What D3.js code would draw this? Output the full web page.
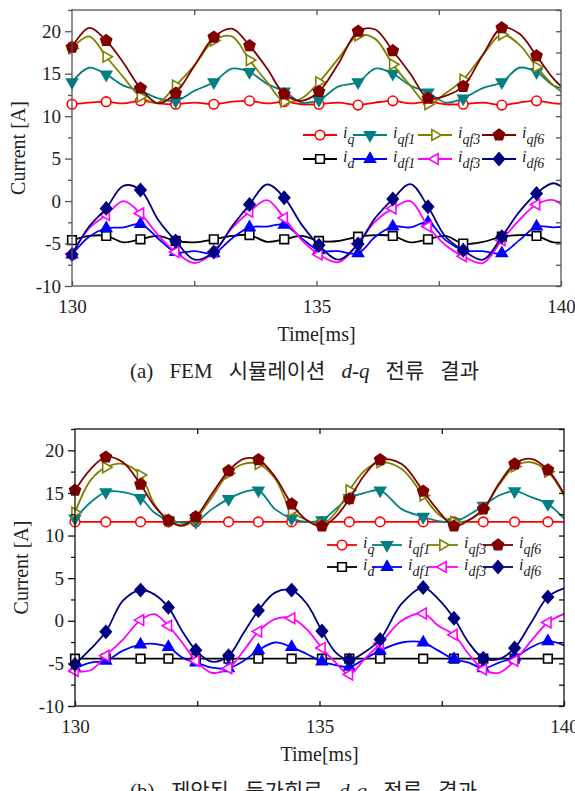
<!DOCTYPE html>
<html>
<head>
<meta charset="utf-8">
<script src="https://cdn.jsdelivr.net/npm/d3@7"></script>
<style>
  body { margin: 0; background: #fff; }
  svg { display: block; }
</style>
</head>
<body>
<svg id="fig" width="575" height="791"></svg>
<script>
// ---- data ----
// (a) FEM simulation, time samples [ms] (markers on every 2nd sample)
var tTop = [130, 130.35, 130.7, 131.05, 131.4, 131.76, 132.12, 132.51, 132.9, 133.27, 133.63, 133.99, 134.34, 134.7,
  135.05, 135.45, 135.85, 136.2, 136.56, 136.92, 137.28, 137.64, 138.0, 138.4, 138.79, 139.15, 139.5, 139.85, 140.2];
var iqA   = [11.4, 11.6, 11.7, 11.5, 11.8, 11.5, 11.4, 11.6, 11.4, 11.7, 11.8, 11.5, 11.7, 11.4, 11.4, 11.6, 11.3, 11.6, 11.8, 11.5, 11.7, 11.4, 11.4, 11.6, 11.3, 11.6, 11.8, 11.5, 11.4];
var iqf1A = [14.0, 15.7, 14.9, 13.6, 13.0, 12.1, 11.8, 13.0, 14.0, 15.6, 15.2, 13.8, 12.9, 11.6, 11.9, 13.5, 14.0, 15.6, 15.0, 13.6, 12.8, 11.6, 12.1, 13.3, 14.0, 15.7, 15.2, 13.6, 13.1];
var iqf3A = [18.0, 19.4, 17.0, 14.6, 12.3, 11.6, 13.6, 16.0, 18.9, 19.4, 16.6, 14.0, 11.7, 12.1, 14.0, 16.8, 19.5, 19.1, 16.1, 13.6, 11.4, 12.7, 14.3, 17.2, 19.6, 18.4, 15.8, 13.6, 12.1];
var iqf6A = [18.1, 20.4, 18.9, 16.3, 13.3, 11.5, 12.7, 16.0, 19.3, 20.3, 18.3, 15.6, 12.6, 11.8, 12.9, 16.2, 20.0, 20.2, 17.7, 15.0, 12.1, 12.4, 13.5, 17.2, 20.4, 19.7, 17.1, 14.4, 12.5];
var idA   = [-4.6, -4.1, -4.1, -4.86, -4.5, -4.1, -4.7, -4.86, -4.5, -4.1, -4.0, -4.8, -4.5, -4.1, -4.7, -4.7, -4.2, -4.0, -4.1, -4.86, -4.5, -4.1, -5.0, -4.8, -4.2, -4.0, -4.1, -4.86, -4.8];
var idf1A = [-6.3, -4.2, -3.2, -3.1, -2.7, -4.4, -6.0, -5.9, -6.15, -4.4, -3.1, -3.0, -2.8, -4.4, -5.8, -5.9, -6.15, -4.2, -3.0, -3.1, -2.5, -4.6, -5.8, -5.9, -6.15, -4.6, -3.0, -3.1, -2.9];
var idf3A = [-6.2, -3.2, -1.64, 0.0, -1.45, -4.0, -6.0, -7.3, -6.0, -3.2, -1.25, 0.1, -2.0, -4.6, -6.3, -7.2, -5.0, -2.4, -0.86, 0.0, -3.0, -5.2, -6.5, -7.3, -4.6, -2.2, -0.4, 0.1, -1.5];
var idf6A = [-6.3, -3.0, -0.86, 1.8, 1.3, -2.2, -4.7, -6.9, -6.0, -3.0, -0.4, 1.97, 0.4, -2.8, -5.2, -6.9, -5.05, -2.0, 0.24, 2.0, -0.66, -4.2, -5.8, -6.9, -4.2, -1.25, 0.9, 2.1, 0.7];

// (b) proposed equivalent circuit
var tBot = [130.0, 130.32, 130.63, 130.98, 131.34, 131.62, 131.91, 132.19, 132.47, 132.8, 133.14, 133.45, 133.75, 134.09, 134.43, 134.74,
  135.05, 135.33, 135.61, 135.92, 136.24, 136.68, 137.12, 137.43, 137.75, 138.05, 138.35, 138.67, 138.99, 139.33, 139.67, 140.0];
var iqB   = [11.6, 11.6, 11.6, 11.6, 11.6, 11.6, 11.6, 11.6, 11.6, 11.6, 11.6, 11.6, 11.6, 11.6, 11.6, 11.6, 11.6, 11.6, 11.6, 11.6, 11.6, 11.6, 11.6, 11.6, 11.6, 11.6, 11.6, 11.6, 11.6, 11.6, 11.6, 11.6];
var iqf1B = [12.0, 13.9, 15.1, 15.1, 14.4, 12.7, 11.8, 11.5, 11.6, 13.1, 14.3, 15.1, 15.3, 13.1, 12.0, 11.6, 11.8, 13.1, 14.4, 15.0, 15.3, 13.1, 12.2, 11.7, 11.6, 12.4, 13.5, 14.7, 15.2, 14.5, 13.7, 12.0];
var iqf3B = [12.7, 16.5, 18.0, 18.4, 17.1, 13.7, 11.8, 11.1, 12.0, 14.5, 17.3, 18.4, 18.4, 16.7, 12.9, 11.8, 11.3, 12.7, 15.3, 17.6, 18.6, 17.8, 14.7, 12.5, 11.6, 11.8, 13.1, 15.9, 18.1, 18.6, 17.5, 14.7];
var iqf6B = [15.3, 17.8, 19.2, 18.6, 16.0, 13.5, 11.8, 11.2, 12.2, 14.9, 17.6, 19.0, 18.9, 16.9, 13.7, 11.8, 11.1, 12.2, 14.3, 17.1, 18.9, 18.4, 15.2, 12.9, 11.1, 11.8, 13.1, 16.1, 18.4, 19.0, 17.7, 14.9];
var idB   = [-4.45, -4.45, -4.45, -4.45, -4.45, -4.45, -4.45, -4.45, -4.45, -4.45, -4.45, -4.45, -4.45, -4.45, -4.45, -4.45, -4.45, -4.45, -4.45, -4.45, -4.45, -4.45, -4.45, -4.45, -4.45, -4.45, -4.45, -4.45, -4.45, -4.45, -4.45, -4.45];
var idf1B = [-5.57, -4.9, -4.7, -3.5, -2.8, -2.7, -3.1, -4.3, -4.9, -5.5, -5.57, -4.7, -3.45, -2.55, -3.1, -3.9, -4.8, -5.2, -5.4, -4.5, -3.5, -2.55, -2.55, -3.5, -4.5, -4.9, -5.57, -4.9, -4.3, -3.1, -2.4, -2.9];
var idf3B = [-5.9, -5.8, -4.1, -2.2, 0.08, 0.78, -0.59, -2.55, -4.7, -6.1, -5.57, -3.5, -1.25, 0.2, 0.3, -1.0, -3.2, -4.9, -6.3, -4.5, -2.7, 0.0, 0.86, -0.59, -1.65, -3.9, -5.7, -6.1, -4.7, -2.35, -0.2, 0.8];
var idf6B = [-5.1, -3.3, -1.3, 2.35, 3.6, 3.1, 1.57, -1.2, -3.45, -4.8, -4.1, -1.4, 1.2, 3.3, 3.6, 2.0, -1.2, -3.7, -4.6, -3.7, -2.2, 2.0, 3.9, 2.55, 0.3, -2.55, -4.4, -4.5, -3.2, -0.2, 2.8, 3.8];

var subs = ["q", "qf1", "qf3", "qf6", "d", "df1", "df3", "df6"];
var yTicks = [-10, -5, 0, 5, 10, 15, 20];
var yMinor = [-7.5, -2.5, 2.5, 7.5, 12.5, 17.5, 22.5];
var xTicks = [130, 135, 140];
var xMinor = [132.5, 137.5];

// ---- styles ----
var colors = ["#ff0000", "#008080", "#808000", "#800000", "#000000", "#0000ff", "#ff00ff", "#000080"];
var shapes = ["circle", "triDown", "triRight", "pentagon", "square", "triUp", "triLeft", "diamond"];
var hollow = [true, false, true, false, true, false, true, false];

var svg = d3.select("#fig");
var serif = "'Liberation Serif', 'Times New Roman', serif";

function markerPath(shape, r) {
  var pts;
  if (shape == "circle") return d3.symbol(d3.symbolCircle, Math.PI * r * r)();
  if (shape == "square") {
    var a = r * 0.9;
    pts = [[-a, -a], [a, -a], [a, a], [-a, a]];
  } else if (shape == "diamond") {
    pts = [[0, -r * 1.3], [r * 1.15, 0], [0, r * 1.3], [-r * 1.15, 0]];
  } else if (shape == "pentagon") {
    pts = d3.range(5).map(function(k) {
      var ang = -Math.PI / 2 + k * 2 * Math.PI / 5;
      return [r * 1.2 * Math.cos(ang), r * 1.2 * Math.sin(ang)];
    });
  } else {
    var rot = {triUp: -90, triDown: 90, triRight: 0, triLeft: 180}[shape];
    pts = d3.range(3).map(function(k) {
      var ang = (rot + k * 120) * Math.PI / 180;
      return [r * 1.3 * Math.cos(ang), r * 1.3 * Math.sin(ang)];
    });
  }
  return "M" + pts.map(function(p) { return p[0].toFixed(2) + "," + p[1].toFixed(2); }).join("L") + "Z";
}

function drawMarker(g, s, cx, cy) {
  g.append("path")
    .attr("d", markerPath(shapes[s], 4.8))
    .attr("transform", "translate(" + cx + "," + cy + ")")
    .style("fill", hollow[s] ? "#fff" : colors[s])
    .style("stroke", colors[s])
    .style("stroke-width", 1.6);
}

function drawChart(cfg) {
  var x = d3.scaleLinear().domain([130, 140]).range([cfg.left, cfg.right]);
  var y = d3.scaleLinear().domain([-10, 22.5]).range([cfg.bottom, cfg.top]);
  var g = svg.append("g");

  g.append("clipPath").attr("id", cfg.id + "clip")
    .append("rect")
    .attr("x", cfg.left).attr("y", cfg.top)
    .attr("width", cfg.right - cfg.left).attr("height", cfg.bottom - cfg.top);

  var line = d3.line()
    .x(function(d) { return x(d[0]); })
    .y(function(d) { return y(d[1]); })
    .curve(d3.curveCatmullRom.alpha(0.5));

  cfg.series.forEach(function(vals, s) {
    var pts = vals.map(function(v, i) { return [cfg.time[i], v]; });
    g.append("path")
      .attr("d", line(pts))
      .attr("clip-path", "url(#" + cfg.id + "clip)")
      .style("fill", "none")
      .style("stroke", colors[s])
      .style("stroke-width", 1.8);
    pts.forEach(function(p, i) {
      if (i % 2 == 0 && p[0] <= 140) drawMarker(g, s, x(p[0]), y(p[1]));
    });
  });

  // axes
  var axStyle = function(sel) {
    sel.select(".domain").remove();
    sel.selectAll("line").style("stroke", cfg.axisColor).style("stroke-width", 1.3);
    sel.selectAll("text").style("font-family", serif).style("font-size", "19px").style("fill", "#222");
  };
  g.append("g").attr("transform", "translate(" + cfg.left + ",0)")
    .call(d3.axisLeft(y).tickValues(yTicks).tickSizeInner(7).tickSizeOuter(0).tickPadding(4)
      .tickFormat(function(d) { return String(d); }))
    .call(axStyle);
  g.append("g").attr("transform", "translate(" + cfg.left + ",0)")
    .call(d3.axisLeft(y).tickValues(yMinor).tickSizeInner(4).tickSizeOuter(0).tickFormat(""))
    .call(axStyle);
  g.append("g").attr("transform", "translate(" + cfg.right + ",0)")
    .call(d3.axisRight(y).tickValues(yTicks.concat(yMinor)).tickSizeInner(-5).tickSizeOuter(0).tickFormat(""))
    .call(axStyle);
  g.append("g").attr("transform", "translate(0," + cfg.bottom + ")")
    .call(d3.axisBottom(x).tickValues(xTicks).tickSizeInner(-5).tickSizeOuter(0).tickPadding(14)
      .tickFormat(function(d) { return String(d); }))
    .call(axStyle);
  g.append("g").attr("transform", "translate(0," + cfg.bottom + ")")
    .call(d3.axisBottom(x).tickValues(xMinor).tickSizeInner(-5).tickSizeOuter(0).tickFormat(""))
    .call(axStyle);
  g.append("g").attr("transform", "translate(0," + cfg.top + ")")
    .call(d3.axisTop(x).tickValues(xMinor.concat([135])).tickSizeInner(-5).tickSizeOuter(0).tickFormat(""))
    .call(axStyle);

  g.append("rect")
    .attr("x", cfg.left).attr("y", cfg.top)
    .attr("width", cfg.right - cfg.left).attr("height", cfg.bottom - cfg.top)
    .style("fill", "none").style("stroke", cfg.axisColor).style("stroke-width", 1.3);

  // axis titles
  g.append("text")
    .attr("transform", "translate(" + (cfg.left - 54) + "," + ((cfg.top + cfg.bottom) / 2) + ") rotate(-90)")
    .attr("text-anchor", "middle").attr("dy", "0.35em")
    .style("font-family", serif).style("font-size", "20px").style("fill", "#222")
    .text("Current [A]");
  g.append("text")
    .attr("x", (cfg.left + cfg.right) / 2).attr("y", cfg.bottom + 48)
    .attr("text-anchor", "middle").attr("dy", "0.35em")
    .style("font-family", serif).style("font-size", "20px").style("fill", "#222")
    .text("Time[ms]");

  // legend
  subs.forEach(function(sub, s) {
    var col = s % 4, row = Math.floor(s / 4);
    var lx = cfg.legX[col], ly = cfg.legY[row];
    g.append("line")
      .attr("x1", lx).attr("x2", lx + cfg.legLen).attr("y1", ly).attr("y2", ly)
      .style("stroke", colors[s]).style("stroke-width", 1.8);
    drawMarker(g, s, lx + cfg.legLen / 2, ly);
    var t = g.append("text")
      .attr("x", lx + cfg.legLen + 6).attr("y", ly + 3)
      .style("font-family", serif).style("font-style", "italic").style("font-size", "16px").style("fill", "#222");
    t.append("tspan").text("i");
    t.append("tspan").attr("dy", 6).style("font-size", "14px").text(sub);
  });

  // caption
  var cap = g.append("text")
    .attr("x", cfg.capX).attr("y", cfg.bottom + 85).attr("dy", "0.35em")
    .style("font-family", serif + ", 'Noto Sans CJK KR'").style("font-size", "21px").style("fill", "#222");
  cap.append("tspan").text(cfg.caption[0]);
  cap.append("tspan").style("font-style", "italic").text(cfg.caption[1]);
  cap.append("tspan").text(cfg.caption[2]);
  var len = cap.node().getComputedTextLength();
  cap.style("word-spacing", Math.max(0, (cfg.capW - len) / 5) + "px");
}

drawChart({
  id: "a", left: 72, right: 561, top: 10, bottom: 286, axisColor: "#555",
  time: tTop,
  series: [iqA, iqf1A, iqf3A, iqf6A, idA, idf1A, idf3A, idf6A],
  legX: [303, 353, 418, 482], legY: [135, 159], legLen: 34,
  caption: ["(a) FEM 시뮬레이션 ", "d-q", " 전류 결과"], capX: 130, capW: 349
});
drawChart({
  id: "b", left: 75, right: 564, top: 429, bottom: 706, axisColor: "#111",
  time: tBot,
  series: [iqB, iqf1B, iqf3B, iqf6B, idB, idf1B, idf3B, idf6B],
  legX: [327, 372, 428, 483], legY: [545, 567], legLen: 30,
  caption: ["(b) 제안된 등가회로 ", "d-q", " 전류 결과"], capX: 130, capW: 347
});
</script>
</body>
</html>
